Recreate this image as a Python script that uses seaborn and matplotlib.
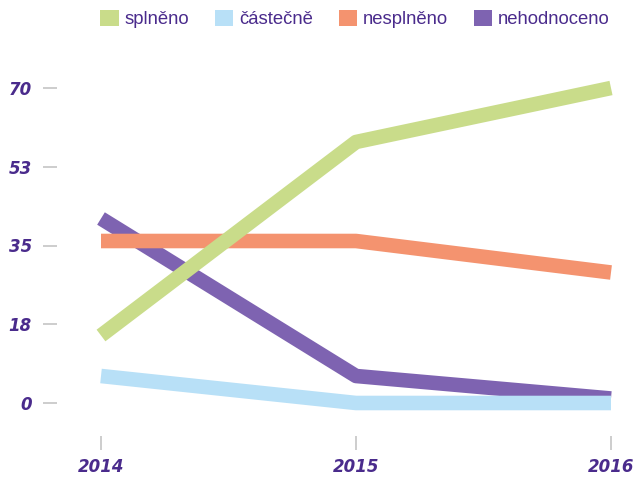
import numpy as np
import pandas as pd
import matplotlib
matplotlib.use("Agg")
import matplotlib.pyplot as plt
from matplotlib.patches import Patch
import seaborn as sns

# data
years = [2014, 2015, 2016]
categories = ["splněno", "částečně", "nesplněno", "nehodnoceno"]
splneno = [15, 58, 70]
castecne = [6, 0, 0]
nesplneno = [36, 36, 29]
nehodnoceno = [41, 6, 1]
ytick_values = [0, 17.5, 35, 52.5, 70]
ytick_labels = ["0", "18", "35", "53", "70"]

colors = {"splněno": "#c9dc8a", "částečně": "#b8e0f7",
          "nesplněno": "#f4936f", "nehodnoceno": "#7e63b1"}
text_color = "#4a2b8c"
tick_color = "#c9c9c9"

df = pd.DataFrame({
    "rok": years * 4,
    "stav": np.repeat(categories, len(years)),
    "hodnota": splneno + castecne + nesplneno + nehodnoceno,
})

sns.set_style("white")
fig = plt.figure(figsize=(6.35, 4.78), dpi=100)
W, H = 635, 478
# axes: x 101..611 px, y from 70 px (74) to 430 px (-6)
ax = fig.add_axes([101 / W, (H - 430) / H, (611 - 101) / W, (430 - 70) / H])

# draw in reverse so splněno ends up on top
order = categories[::-1]
sns.lineplot(data=df, x="rok", y="hodnota", hue="stav", hue_order=order,
             palette=colors, linewidth=10.5, legend=False, ax=ax)
for line in ax.get_lines():
    line.set_clip_on(False)
    line.set_solid_capstyle("butt")
    line.set_solid_joinstyle("round")

ax.set_xlim(2014, 2016)
ax.set_ylim(-6, 74)
ax.set_xticks(years)
ax.set_xticklabels([str(y) for y in years])
ax.set_yticks(ytick_values)
ax.set_yticklabels(ytick_labels)
ax.set_xlabel("")
ax.set_ylabel("")

for s in ["top", "right", "left", "bottom"]:
    ax.spines[s].set_visible(False)
ax.spines["left"].set_position(("outward", 44 * 0.72))
ax.spines["bottom"].set_position(("outward", 6 * 0.72))

ax.tick_params(axis="y", direction="out", length=10, width=1.3,
               color=tick_color, pad=8, left=True)
ax.tick_params(axis="x", direction="out", length=10, width=1.3,
               color=tick_color, pad=6, bottom=True)
for lab in ax.get_yticklabels() + ax.get_xticklabels():
    lab.set_fontweight("bold")
    lab.set_fontstyle("italic")
    lab.set_fontsize(12)
    lab.set_color(text_color)

handles = [Patch(facecolor=colors[c], edgecolor="none", label=c) for c in categories]
leg = fig.legend(handles=handles, loc="center", bbox_to_anchor=(355 / W, 1 - 19 / H),
                 ncol=4, frameon=False, prop={"family": "Liberation Sans", "size": 13.3},
                 handlelength=1.0, handleheight=1.0, handletextpad=0.3,
                 columnspacing=1.4, borderaxespad=0)
for t in leg.get_texts():
    t.set_color(text_color)

fig.savefig("out.png", dpi=100)
